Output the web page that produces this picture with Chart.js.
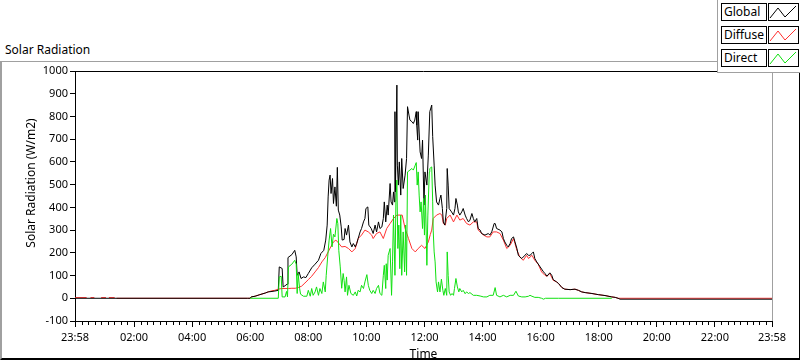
<!DOCTYPE html>
<html>
<head>
<meta charset="utf-8">
<script src="https://cdn.jsdelivr.net/npm/chart.js@4.4.1/dist/chart.umd.min.js"></script>
<style>
html,body{margin:0;padding:0;background:#fff;}
#wrap{position:relative;width:800px;height:361px;overflow:hidden;font-family:"Noto Sans",sans-serif;color:#000;}
#frame{position:absolute;left:0;top:61px;width:797px;height:296px;border-top:1px solid #a0a0a0;border-left:2px solid #a0a0a0;border-bottom:2px solid #000;border-right:1px solid #000;}
#ptitle{position:absolute;left:5px;top:43px;font-size:12px;line-height:14px;}
#c{position:absolute;left:0;top:0;}
#legend{position:absolute;left:717px;top:0;width:83px;height:72px;border-left:1px solid #a0a0a0;border-bottom:1px solid #a0a0a0;background:#fff;}
.row{position:absolute;left:3px;width:80px;height:18px;}
.lab{position:absolute;left:0;top:0;width:42px;height:16px;border:1px solid #000;font-size:12px;line-height:16px;padding-left:2px;background:#fff;}
.ico{position:absolute;left:47px;top:0;width:29px;height:16px;border:1px solid #000;background:#fff;}
.ico svg{position:absolute;left:0;top:0;}
</style>
</head>
<body>
<div id="wrap">
  <div id="frame"></div>
  <div id="ptitle">Solar Radiation</div>
  <canvas id="c" width="800" height="361"></canvas>
  <div id="legend">
    <div class="row" style="top:3px"><div class="lab">Global</div><div class="ico"><svg width="29" height="16"><polyline points="1,14 9,4 16,13 27,2" fill="none" stroke="#000" stroke-width="1"/></svg></div></div>
    <div class="row" style="top:26px"><div class="lab">Diffuse</div><div class="ico"><svg width="29" height="16"><polyline points="1,14 9,4 16,13 27,2" fill="none" stroke="#ff3030" stroke-width="1"/></svg></div></div>
    <div class="row" style="top:49px"><div class="lab">Direct</div><div class="ico"><svg width="29" height="16"><polyline points="1,14 9,4 16,13 27,2" fill="none" stroke="#10e010" stroke-width="1"/></svg></div></div>
  </div>
</div>
<script>
// ---- data (minutes since midnight; -2 = 23:58 of previous day) ----
const seriesNames = ['Global', 'Diffuse', 'Direct'];

const globalTime = [-2,355,360,362,370,380,391,397,405,411,
418,420,426,428,432,436,438,446,452,455,
457,461,465,470,475,480,487,494,501,506,
512,516,519,521,523,525,527,530,532,535,
538,540,542,545,548,550,554,556,559,563,
566,570,573,577,580,583,587,590,594,597,
599,603,605,610,614,618,621,625,628,632,
635,637,640,643,645,649,651,654,656,658,
659,660,663,664,666,668,671,673,676,680,
683,685,688,690,694,697,700,703,704,706,
707,711,714,716,719,721,725,728,731,735,
737,740,742,745,749,752,754,757,759,762,
766,767,769,771,776,780,783,785,788,790,
793,797,800,804,807,811,814,818,821,824,
828,831,835,838,845,852,855,859,864,866,
869,876,880,883,886,890,893,897,900,904,
907,911,914,917,921,928,931,935,938,942,
945,948,952,959,966,969,973,979,983,986,
993,997,1004,1010,1021,1031,1038,1045,1052,1066,
1079,1093,1107,1114,1120,1124,1438];
const globalVal = [0,0,0,6,9,16,23,28,30,32,
35,138,131,50,55,62,179,192,211,182,
101,116,87,94,91,109,134,150,167,197,
211,256,322,446,520,542,461,527,417,490,
405,576,388,366,314,256,259,307,278,322,
248,226,241,226,241,263,292,307,336,351,
395,402,322,307,285,322,292,336,307,314,
351,424,336,410,366,505,424,410,468,424,
821,468,938,586,498,600,454,615,483,542,
615,843,806,784,777,769,784,821,762,696,
821,644,615,696,410,556,498,630,821,850,
711,586,498,424,410,439,454,395,336,322,
395,571,498,395,380,366,395,439,410,380,
366,380,395,366,351,336,344,373,351,336,
351,307,300,285,278,285,278,292,329,329,
307,300,292,263,248,233,226,241,263,270,
248,219,189,182,175,190,197,189,189,197,
204,175,160,138,116,109,97,112,101,82,
72,65,47,40,38,40,35,28,25,21,
16,12,6,4,0,-4,-4];

const diffuseTime = [-2,22,23,30,38,39,52,62,63,68,
80,81,84,355,360,362,370,380,391,397,
405,411,418,425,432,439,446,453,459,466,
473,480,487,494,501,508,515,521,527,532,
537,542,549,556,563,570,577,583,590,597,
604,611,614,621,628,635,642,649,656,663,
670,674,680,687,694,701,707,714,721,728,
732,735,738,745,752,756,759,763,766,773,
780,787,793,800,807,814,821,828,831,835,
842,849,855,862,869,876,883,890,897,904,
907,911,917,924,931,935,942,948,955,962,
969,973,979,986,993,997,1004,1010,1021,1031,
1038,1045,1052,1066,1079,1093,1107,1114,1120,1438];
const diffuseVal = [3,3,null,3,3,null,3,3,null,3,
3,null,0,0,0,6,9,16,23,28,
33,35,40,43,43,43,44,44,47,53,
67,82,97,116,135,160,179,204,229,248,
256,244,226,228,219,204,219,263,278,300,
292,278,263,285,292,263,307,329,351,366,
366,366,307,263,219,204,219,233,219,248,
280,300,351,366,373,366,329,322,351,366,
336,366,344,351,329,322,336,336,300,292,
278,270,270,292,292,285,256,219,233,263,
241,211,182,167,189,175,189,167,150,116,
101,97,109,79,72,65,47,40,38,40,
35,28,25,21,16,12,6,4,0,0];

const directTime = [360,418,420,424,426,432,435,437,439,446,
452,455,457,459,462,464,470,477,480,484,
487,490,494,497,501,504,508,511,515,517,
520,523,526,529,532,535,539,541,543,546,
549,552,554,556,559,561,564,568,573,577,
580,583,587,590,594,597,601,604,607,611,
614,618,621,625,628,632,635,637,640,641,
643,645,649,652,654,656,659,661,663,665,
667,669,671,673,676,679,681,683,685,690,
694,697,701,703,705,707,709,711,713,716,
718,720,722,725,727,730,731,735,737,738,
740,742,744,747,749,752,755,758,760,763,
766,767,769,771,774,777,780,782,785,788,
791,793,797,800,804,807,811,814,821,828,
835,842,849,855,862,866,869,876,883,890,
897,904,909,914,921,928,935,938,942,948,
955,962,966,970,997,1107];
const directVal = [0,0,94,97,6,6,30,6,138,150,
167,150,21,109,44,18,9,9,35,9,
43,13,28,50,13,43,21,72,28,101,
182,256,307,226,282,270,351,329,211,138,
44,109,79,28,94,13,57,21,13,28,
10,35,28,57,43,72,104,57,35,21,
35,21,43,57,21,13,101,145,43,152,
80,189,219,13,160,366,101,424,520,219,
322,130,366,101,292,116,322,101,556,564,
571,564,586,597,498,556,454,380,424,307,
439,278,454,145,366,556,571,578,424,300,
204,160,72,28,72,28,84,35,13,43,
13,204,101,28,13,21,13,43,87,50,
28,43,28,35,20,28,21,25,13,13,
10,6,6,13,13,47,13,6,13,6,
13,13,31,10,6,6,9,13,9,4,
4,0,-4,0,0,0];

const xTickValues = [-2,120,240,360,480,600,720,840,960,1080,1200,1320,1438];
const xTickLabels = ['23:58','02:00','04:00','06:00','08:00','10:00','12:00','14:00','16:00','18:00','20:00','22:00','23:58'];
const yTicks = [-100,0,100,200,300,400,500,600,700,800,900,1000];
const yTitle = 'Solar Radiation (W/m2)';

// ---- chart ----
const pts = (t, v) => t.map((x, i) => ({x: x, y: v[i]}));
const tickFont = {family: '"Noto Sans", sans-serif', size: 11};
const titleFont = {family: '"Noto Sans", sans-serif', size: 12};

const framePlugin = {
  id: 'framePlugin',
  afterDraw(chart) {
    const ctx = chart.ctx, a = chart.chartArea, xs = chart.scales.x;
    ctx.save();
    ctx.lineWidth = 1;
    ctx.strokeStyle = '#000';
    ctx.beginPath();
    ctx.moveTo(a.left, Math.round(a.top) + 0.5);
    ctx.lineTo(a.right, Math.round(a.top) + 0.5);
    ctx.stroke();
    ctx.strokeStyle = '#a0a0a0';
    ctx.beginPath();
    ctx.moveTo(Math.round(a.right) + 0.5, a.top);
    ctx.lineTo(Math.round(a.right) + 0.5, a.bottom);
    ctx.stroke();
    // minor ticks on the time axis
    ctx.strokeStyle = '#000';
    ctx.beginPath();
    for (let i = 0; i < xTickValues.length - 1; i++) {
      const s = xTickValues[i], e = xTickValues[i + 1];
      for (let k = 1; k < 9; k++) {
        const px = Math.round(xs.getPixelForValue(s + (e - s) * k / 9)) + 0.5;
        ctx.moveTo(px, a.bottom);
        ctx.lineTo(px, a.bottom + 4);
      }
    }
    ctx.stroke();
    // y axis title
    ctx.fillStyle = '#000';
    ctx.font = '12px "Noto Sans", sans-serif';
    ctx.textAlign = 'center';
    ctx.textBaseline = 'middle';
    ctx.translate(32, 183);
    ctx.rotate(-Math.PI / 2);
    ctx.fillText(yTitle, 0, 0);
    ctx.restore();
  }
};

new Chart(document.getElementById('c'), {
  type: 'line',
  data: {
    datasets: [
      {label: seriesNames[2], data: pts(directTime, directVal), borderColor: '#10e010', order: 0},
      {label: seriesNames[0], data: pts(globalTime, globalVal), borderColor: '#000000', order: 1},
      {label: seriesNames[1], data: pts(diffuseTime, diffuseVal), borderColor: '#ff3030', order: 2}
    ]
  },
  options: {
    responsive: false,
    animation: false,
    spanGaps: false,
    elements: {
      line: {borderWidth: 1, tension: 0, fill: false},
      point: {radius: 0, hoverRadius: 0}
    },
    layout: {padding: {left: 0, top: 71, right: 28, bottom: 0}},
    plugins: {legend: {display: false}, title: {display: false}, tooltip: {enabled: false}},
    scales: {
      x: {
        type: 'linear', min: -2, max: 1438,
        afterBuildTicks: s => { s.ticks = xTickValues.map(v => ({value: v})); },
        afterFit: s => { s.height = 40; },
        ticks: {autoSkip: false, maxRotation: 0, padding: 4, color: '#000', font: tickFont,
                callback: (v, i) => xTickLabels[i]},
        grid: {drawOnChartArea: false, drawTicks: true, tickLength: 6, color: '#000', lineWidth: 1},
        border: {display: true, color: '#000', width: 1},
        title: {display: true, text: 'Time', color: '#000', font: titleFont, padding: {top: 0, bottom: -1}}
      },
      y: {
        type: 'linear', min: -100, max: 1000,
        afterBuildTicks: s => { s.ticks = yTicks.map(v => ({value: v})); },
        afterFit: s => { s.width = 75; },
        ticks: {padding: 2, color: '#000', font: tickFont, callback: v => String(v)},
        grid: {drawOnChartArea: false, drawTicks: true, tickLength: 5, color: '#000', lineWidth: 1},
        border: {display: true, color: '#000', width: 1},
        title: {display: false}
      }
    }
  },
  plugins: [framePlugin]
});
</script>
</body>
</html>
